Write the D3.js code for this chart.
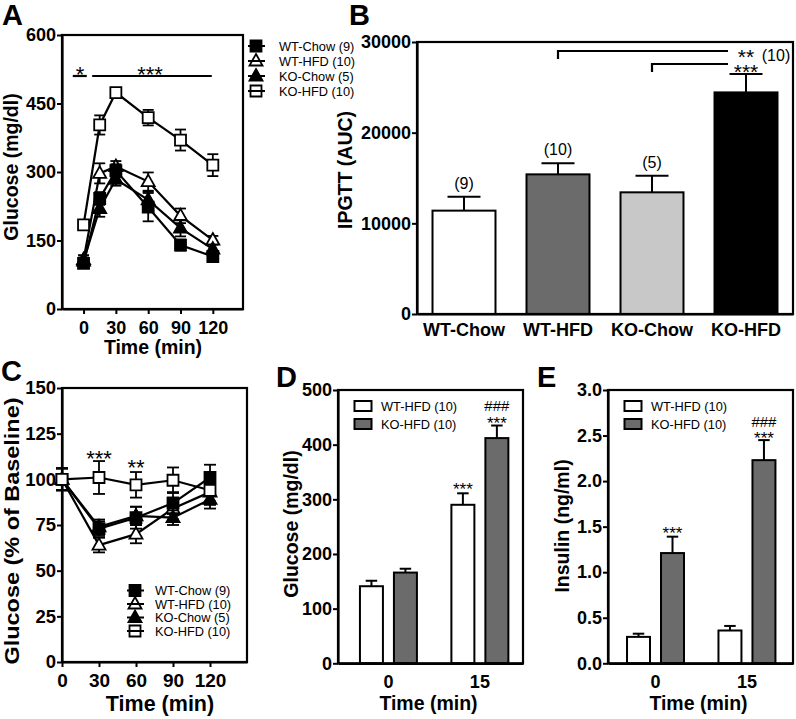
<!DOCTYPE html>
<html><head><meta charset="utf-8">
<script src="https://cdn.jsdelivr.net/npm/d3@7"></script>
<style>
body{margin:0;background:#fff;}
</style></head><body>
<script>
// ---------------- DATA ----------------
const groupNames = ["WT-Chow (9)", "WT-HFD (10)", "KO-Chow (5)", "KO-HFD (10)"];
const groupShort = ["WT-Chow", "WT-HFD", "KO-Chow", "KO-HFD"];

// Panel A: IPGTT glucose (mg/dl)
const timeA = [0, 15, 30, 60, 90, 120];
const gluA_WTChow   = [100, 242, 303, 223, 140, 115];
const gluA_WTChowE  = [10, 14, 14, 31, 12, 9];
const gluA_WTHFD    = [108, 297, 312, 279, 204, 151];
const gluA_WTHFDE   = [10, 22, 12, 20, 16, 9];
const gluA_KOChow   = [105, 220, 284, 239, 177, 131];
const gluA_KOChowE  = [8, 18, 14, 18, 18, 10];
const gluA_KOHFD    = [184, 403, 474, 419, 370, 315];
const gluA_KOHFDE   = [8, 21, 8, 17, 23, 24];
const ticksA_y = [0, 150, 300, 450, 600];
const ticksA_x = [0, 30, 60, 90, 120];

// Panel B: IPGTT AUC
const aucB  = [11400, 15400, 13420, 24440];
const aucBE = [1540, 1220, 1830, 2020];
const nB    = ["(9)", "(10)", "(5)", "(10)"];
const ticksB_y = [0, 10000, 20000, 30000];

// Panel C: ITT glucose (% of baseline)
const timeC = [0, 30, 60, 90, 120];
const pctC_WTChow  = [100, 73, 79, 87, 101];
const pctC_WTChowE = [6, 4, 6, 6, 7];
const pctC_WTHFD   = [100, 64, 70, 84, 93];
const pctC_WTHFDE  = [6, 4, 5, 6, 7];
const pctC_KOChow  = [100, 74, 80, 79, 89];
const pctC_KOChowE = [6, 4, 5, 4, 5];
const pctC_KOHFD   = [100, 101, 97, 99.5, 94];
const pctC_KOHFDE  = [6, 9, 7, 7, 6];
const ticksC_y = [0, 25, 50, 75, 100, 125, 150];
const ticksC_x = [0, 30, 60, 90, 120];

// Panels D/E
const timeDE = ["0", "15"];
const groupsDE = ["WT-HFD (10)", "KO-HFD (10)"];
const gluD_WTHFD  = [141, 290];
const gluD_WTHFDE = [10, 21];
const gluD_KOHFD  = [166, 412];
const gluD_KOHFDE = [7, 23];
const insE_WTHFD  = [0.29, 0.36];
const insE_WTHFDE = [0.035, 0.05];
const insE_KOHFD  = [1.21, 2.23];
const insE_KOHFDE = [0.18, 0.22];
const ticksD_y = [0, 100, 200, 300, 400, 500];
const ticksE_y = [0, 0.5, 1.0, 1.5, 2.0, 2.5, 3.0];

// ---------------- STYLE ----------------
const FF = '"Liberation Sans", Arial, Helvetica, sans-serif';
const seriesStyle = [
  {shape: "square",   fill: "#000"},
  {shape: "triangle", fill: "#fff"},
  {shape: "triangle", fill: "#000"},
  {shape: "square",   fill: "#fff"}
];
const barFillsB = ["#ffffff", "#6b6b6b", "#c8c8c8", "#000000"];
const barFillsDE = ["#ffffff", "#6b6b6b"];

const svg = d3.select("body").append("svg").attr("width", 796).attr("height", 719);

function txt(g, x, y, s, o = {}) {
  return g.append("text").attr("x", x).attr("y", y).text(s)
    .attr("font-family", FF).attr("font-size", o.fs || 18)
    .attr("font-weight", o.bold ? "bold" : "normal")
    .attr("text-anchor", o.anchor || "start").attr("fill", "#000");
}
function ytitle(bx, cy, s, fs, len) {
  const t = svg.append("text").attr("transform", `translate(${bx},${cy}) rotate(-90)`)
    .attr("text-anchor", "middle").attr("font-family", FF).attr("font-size", fs)
    .attr("font-weight", "bold").text(s);
  if (len) t.attr("textLength", len).attr("lengthAdjust", "spacingAndGlyphs");
}
function styleAxis(g, fs) {
  g.selectAll("path.domain").attr("stroke", "#000").attr("stroke-width", 2.2);
  g.selectAll(".tick line").attr("stroke", "#000").attr("stroke-width", 2);
  g.selectAll(".tick text").attr("font-size", fs).attr("font-weight", "bold")
    .attr("font-family", FF).attr("fill", "#000");
}
function frame(x0, y0, x1, y1) {
  svg.append("rect").attr("x", x0).attr("y", y0).attr("width", x1 - x0).attr("height", y1 - y0)
    .attr("fill", "none").attr("stroke", "#000").attr("stroke-width", 2.2);
}
function markerPath(shape) {
  if (shape === "square") return "M-5.5,-5.5H5.5V5.5H-5.5Z";
  return "M0,-7L6.5,4.5L-6.5,4.5Z";
}
function stars(x, cy, s, fs) {
  // asterisk glyph centre sits ~0.57em above the baseline
  txt(svg, x, cy + 0.57 * fs, s, {fs: fs, anchor: "middle"});
}
function hashes(x, cy, s, fs) {
  // '#' glyph centre sits ~0.35em above the baseline
  txt(svg, x, cy + 0.35 * fs, s, {fs: fs, anchor: "middle"});
}
function lineSeries(g, x, y, times, means, errs, order, capW) {
  order.forEach(i => {
    const st = seriesStyle[i];
    const pts = times.map((t, j) => ({t, m: means[i][j], e: errs[i][j]}));
    const eg = g.append("g").attr("stroke", "#000").attr("stroke-width", 1.8);
    pts.forEach(p => {
      eg.append("line").attr("x1", x(p.t)).attr("x2", x(p.t)).attr("y1", y(p.m - p.e)).attr("y2", y(p.m + p.e));
      [p.m - p.e, p.m + p.e].forEach(v => eg.append("line")
        .attr("x1", x(p.t) - capW / 2).attr("x2", x(p.t) + capW / 2).attr("y1", y(v)).attr("y2", y(v)));
    });
    g.append("path").datum(pts).attr("d", d3.line().x(d => x(d.t)).y(d => y(d.m)))
      .attr("fill", "none").attr("stroke", "#000").attr("stroke-width", 2.2);
    g.selectAll(null).data(pts).enter().append("path").attr("d", markerPath(st.shape))
      .attr("transform", d => `translate(${x(d.t)},${y(d.m)})`)
      .attr("fill", st.fill).attr("stroke", "#000").attr("stroke-width", 1.8);
  });
}
function lineLegend(x0, x1, xm, xt, rows, fs) {
  groupNames.forEach((n, i) => {
    const st = seriesStyle[i];
    svg.append("path").attr("d", markerPath(st.shape)).attr("transform", `translate(${xm},${rows[i]})`)
      .attr("fill", st.fill).attr("stroke", "#000").attr("stroke-width", 1.8);
    svg.append("line").attr("x1", x0).attr("x2", x1).attr("y1", rows[i]).attr("y2", rows[i])
      .attr("stroke", "#000").attr("stroke-width", 2);
    txt(svg, xt, rows[i] + fs * 0.36, n, {fs: fs});
  });
}

// ---------------- PANEL A ----------------
{
  const x = d3.scaleLinear().domain([-20, 148]).range([62, 243]);
  const y = d3.scaleLinear().domain([0, 600]).range([309, 35]);
  frame(62, 35, 243, 309);
  const gy = svg.append("g").attr("transform", "translate(62,0)")
    .call(d3.axisLeft(y).tickValues(ticksA_y).tickSize(5).tickPadding(1).tickSizeOuter(0));
  styleAxis(gy, 18);
  const gx = svg.append("g").attr("transform", "translate(0,309)")
    .call(d3.axisBottom(x).tickValues(ticksA_x).tickSize(5).tickPadding(7).tickSizeOuter(0));
  styleAxis(gx, 18);
  const g = svg.append("g");
  lineSeries(g, x, y, timeA,
    [gluA_WTChow, gluA_WTHFD, gluA_KOChow, gluA_KOHFD],
    [gluA_WTChowE, gluA_WTHFDE, gluA_KOChowE, gluA_KOHFDE], [1, 2, 0, 3], 11);
  // significance
  svg.append("line").attr("x1", x(-10)).attr("x2", x(3)).attr("y1", 76).attr("y2", 76).attr("stroke", "#000").attr("stroke-width", 2.2);
  svg.append("line").attr("x1", x(8)).attr("x2", x(119)).attr("y1", 76).attr("y2", 76).attr("stroke", "#000").attr("stroke-width", 2.2);
  stars(80, 69, "*", 22);
  stars(150, 69, "***", 22);
  txt(svg, 153, 354, "Time (min)", {fs: 19.5, bold: true, anchor: "middle"});
  ytitle(18, 167, "Glucose (mg/dl)", 19.5);
  txt(svg, 2, 25, "A", {fs: 29, bold: true});
  lineLegend(248, 265, 256, 279, [46, 61, 76, 91], 12.8);
}

// ---------------- PANEL B ----------------
{
  const x = d3.scaleBand().domain(groupShort).range([417, 793]).paddingInner(0.33).paddingOuter(0.165);
  const y = d3.scaleLinear().domain([0, 30000]).range([314, 42]);
  const bw = x.bandwidth();
  const g = svg.append("g");
  groupShort.forEach((k, i) => {
    const cx = x(k) + bw / 2;
    g.append("line").attr("x1", cx).attr("x2", cx).attr("y1", y(aucB[i])).attr("y2", y(aucB[i] + aucBE[i]))
      .attr("stroke", "#000").attr("stroke-width", 2);
    g.append("line").attr("x1", cx - 16.5).attr("x2", cx + 16.5).attr("y1", y(aucB[i] + aucBE[i])).attr("y2", y(aucB[i] + aucBE[i]))
      .attr("stroke", "#000").attr("stroke-width", 2);
    g.append("rect").attr("x", x(k)).attr("y", y(aucB[i])).attr("width", bw).attr("height", y(0) - y(aucB[i]))
      .attr("fill", barFillsB[i]).attr("stroke", "#000").attr("stroke-width", 2);
    if (i < 3) txt(svg, cx, y(aucB[i] + aucBE[i]) - 8, nB[i], {fs: 16, anchor: "middle"});
  });
  frame(417, 42, 793, 314);
  const gy = svg.append("g").attr("transform", "translate(417,0)")
    .call(d3.axisLeft(y).tickValues(ticksB_y).tickFormat(d3.format("d")).tickSize(5).tickPadding(1).tickSizeOuter(0));
  styleAxis(gy, 18);
  const gx = svg.append("g").attr("transform", "translate(0,314)")
    .call(d3.axisBottom(x).tickSize(0).tickPadding(9).tickSizeOuter(0));
  styleAxis(gx, 18);
  // brackets
  const c1 = x("WT-HFD") + bw / 2, c2 = x("KO-Chow") + bw / 2;
  const b = svg.append("g").attr("stroke", "#000").attr("stroke-width", 2.2).attr("fill", "none");
  b.append("path").attr("d", `M${c1},59V51H728`);
  b.append("path").attr("d", `M${c2},72V64H728`);
  stars(746, 52.5, "**", 21);
  stars(746, 67, "***", 21);
  txt(svg, 776, 61, nB[3], {fs: 16, anchor: "middle"});
  ytitle(352, 170, "IPGTT (AUC)", 19.5);
  txt(svg, 349, 25, "B", {fs: 29, bold: true});
}

// ---------------- PANEL C ----------------
{
  const x = d3.scaleLinear().domain([0, 150]).range([62, 247]);
  const y = d3.scaleLinear().domain([0, 150]).range([662, 388]);
  frame(62, 388, 247, 662);
  const gy = svg.append("g").attr("transform", "translate(62,0)")
    .call(d3.axisLeft(y).tickValues(ticksC_y).tickSize(5).tickPadding(1).tickSizeOuter(0));
  styleAxis(gy, 18.5);
  const gx = svg.append("g").attr("transform", "translate(0,662)")
    .call(d3.axisBottom(x).tickValues(ticksC_x).tickSize(5).tickPadding(7).tickSizeOuter(0));
  styleAxis(gx, 19);
  const g = svg.append("g");
  lineSeries(g, x, y, timeC,
    [pctC_WTChow, pctC_WTHFD, pctC_KOChow, pctC_KOHFD],
    [pctC_WTChowE, pctC_WTHFDE, pctC_KOChowE, pctC_KOHFDE], [1, 2, 0, 3], 12);
  stars(x(30), 453, "***", 22);
  stars(x(60), 462, "**", 22);
  lineLegend(127, 144, 135, 155, [590.5, 604, 617.5, 631], 12.8);
  txt(svg, 160, 711, "Time (min)", {fs: 21.5, bold: true, anchor: "middle"});
  ytitle(19, 531, "Glucose (% of Baseline)", 20.5, 267);
  txt(svg, 1, 381, "C", {fs: 29, bold: true});
}

// ---------------- PANELS D & E ----------------
function groupedBars(opts) {
  const {x0, x1, y0, y1, domainMax, ticks, fmt, a, aE, b, bE, align, ann, title, tcy, tbx, letter, lx} = opts;
  const x = d3.scaleBand().domain(timeDE).range([x0, x1]).paddingInner(0.377).paddingOuter(0.2).align(align);
  const xs = d3.scaleBand().domain(groupsDE).range([0, x.bandwidth()]).paddingInner(0.324);
  const y = d3.scaleLinear().domain([0, domainMax]).range([y1, y0]);
  const bw = xs.bandwidth();
  const vals = [a, b], errs = [aE, bE];
  const g = svg.append("g");
  timeDE.forEach((t, j) => {
    groupsDE.forEach((gn, i) => {
      const bx = x(t) + xs(gn), cx = bx + bw / 2;
      const v = vals[i][j], e = errs[i][j];
      g.append("line").attr("x1", cx).attr("x2", cx).attr("y1", y(v)).attr("y2", y(v + e)).attr("stroke", "#000").attr("stroke-width", 2);
      g.append("line").attr("x1", cx - bw / 4).attr("x2", cx + bw / 4).attr("y1", y(v + e)).attr("y2", y(v + e)).attr("stroke", "#000").attr("stroke-width", 2);
      g.append("rect").attr("x", bx).attr("y", y(v)).attr("width", bw).attr("height", y(0) - y(v))
        .attr("fill", barFillsDE[i]).attr("stroke", "#000").attr("stroke-width", 2);
    });
  });
  frame(x0, y0, x1, y1);
  const gy = svg.append("g").attr("transform", `translate(${x0},0)`)
    .call(d3.axisLeft(y).tickValues(ticks).tickFormat(fmt).tickSize(5).tickPadding(1).tickSizeOuter(0));
  styleAxis(gy, 18);
  const gx = svg.append("g").attr("transform", `translate(0,${y1})`)
    .call(d3.axisBottom(x).tickSize(0).tickPadding(12).tickSizeOuter(0));
  styleAxis(gx, 18);
  // legend
  groupsDE.forEach((gn, i) => {
    const ry = [406, 424][i];
    svg.append("rect").attr("x", x0 + 16.5).attr("y", ry - 5).attr("width", 17).attr("height", 10)
      .attr("fill", barFillsDE[i]).attr("stroke", "#000").attr("stroke-width", 2);
    txt(svg, x0 + 43, ry + 4.6, gn, {fs: 12.8});
  });
  // annotations
  ann.forEach(an => {
    const cx = x(timeDE[an.t]) + xs(groupsDE[an.g]) + bw / 2;
    if (an.s[0] === "#") hashes(cx, an.cy, an.s, an.fs);
    else stars(cx, an.cy, an.s, an.fs);
  });
  txt(svg, (x0 + x1) / 2 - 2, 710, "Time (min)", {fs: 19.5, bold: true, anchor: "middle"});
  ytitle(tbx, tcy, title, 19.5);
  txt(svg, lx, 387, letter, {fs: 29, bold: true});
}

groupedBars({
  x0: 338, x1: 523, y0: 390, y1: 663.3, domainMax: 500, ticks: ticksD_y, fmt: d3.format("d"),
  a: gluD_WTHFD, aE: gluD_WTHFDE, b: gluD_KOHFD, bE: gluD_KOHFDE, align: 0.6,
  ann: [{t: 1, g: 0, cy: 485, s: "***", fs: 17}, {t: 1, g: 1, cy: 419, s: "***", fs: 17}, {t: 1, g: 1, cy: 406, s: "###", fs: 15}],
  title: "Glucose (mg/dl)", tcy: 524, tbx: 298, letter: "D", lx: 276
});
groupedBars({
  x0: 608, x1: 793, y0: 390, y1: 663.3, domainMax: 3.0, ticks: ticksE_y, fmt: d3.format(".1f"),
  a: insE_WTHFD, aE: insE_WTHFDE, b: insE_KOHFD, bE: insE_KOHFDE, align: 0.52,
  ann: [{t: 0, g: 1, cy: 529, s: "***", fs: 17}, {t: 1, g: 1, cy: 434, s: "***", fs: 17}, {t: 1, g: 1, cy: 422, s: "###", fs: 15}],
  title: "Insulin (ng/ml)", tcy: 526, tbx: 569, letter: "E", lx: 537
});
</script>
</body></html>
